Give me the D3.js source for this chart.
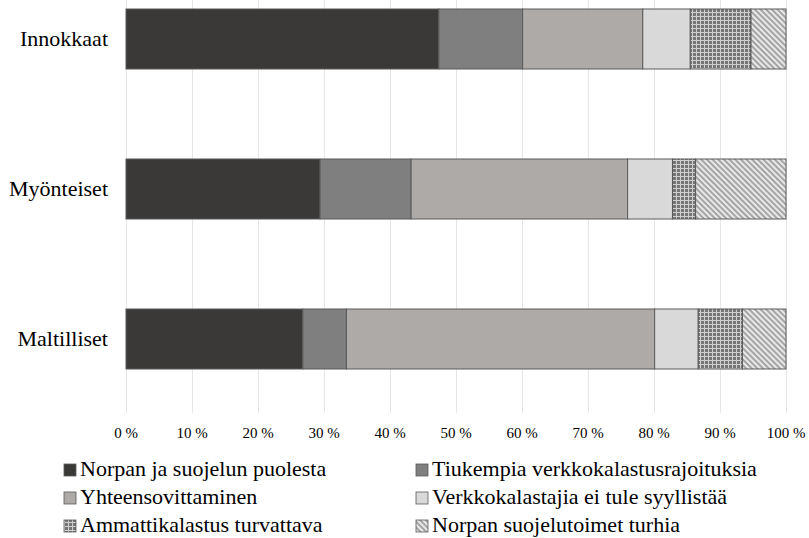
<!DOCTYPE html>
<html>
<head>
<meta charset="utf-8">
<script src="https://cdn.jsdelivr.net/npm/d3@7"></script>
<style>
  body { margin: 0; background: #fff; }
</style>
</head>
<body>
<svg id="chart" width="809" height="538"></svg>
<script>
const categories = ["Innokkaat", "Myönteiset", "Maltilliset"];
const seriesNames = [
  "Norpan ja suojelun puolesta",
  "Tiukempia verkkokalastusrajoituksia",
  "Yhteensovittaminen",
  "Verkkokalastajia ei tule syyllistää",
  "Ammattikalastus turvattava",
  "Norpan suojelutoimet turhia"
];
const norpanPuolesta = [47.4, 29.4, 26.8];
const tiukempia = [12.7, 13.8, 6.6];
const yhteensovittaminen = [18.2, 32.8, 46.7];
const eiSyyllistaa = [7.2, 6.8, 6.6];
const ammattikalastus = [9.2, 3.5, 6.7];
const turhia = [5.3, 13.7, 6.6];
const tickValues = [0, 10, 20, 30, 40, 50, 60, 70, 80, 90, 100];

const seriesValues = [norpanPuolesta, tiukempia, yhteensovittaminen, eiSyyllistaa, ammattikalastus, turhia];
const fills = ["#3a3937", "#7f7f7f", "#aeaaa8", "#d9d9d9", "url(#grid)", "url(#diag)"];
const serif = "'Liberation Serif'";

const svg = d3.select("#chart");

// patterns
const defs = svg.append("defs");
const grid = defs.append("pattern")
    .attr("id", "grid")
    .attr("patternUnits", "userSpaceOnUse")
    .attr("width", 4)
    .attr("height", 4);
grid.append("rect").attr("width", 4).attr("height", 4).attr("fill", "#767676");
grid.append("rect").attr("x", 0).attr("y", 0).attr("width", 4).attr("height", 1).attr("fill", "#cfcfcf");
grid.append("rect").attr("x", 0).attr("y", 0).attr("width", 1).attr("height", 4).attr("fill", "#cfcfcf");

const diag = defs.append("pattern")
    .attr("id", "diag")
    .attr("patternUnits", "userSpaceOnUse")
    .attr("width", 4)
    .attr("height", 4)
    .attr("patternTransform", "rotate(45)");
diag.append("rect").attr("width", 4).attr("height", 4).attr("fill", "#e8e8e8");
diag.append("rect").attr("width", 4).attr("height", 1.8).attr("fill", "#9e9e9e");

const margin = { left: 126, right: 23 };
const width = 809 - margin.left - margin.right;
const plotH = 413;

const x = d3.scaleLinear().domain([0, 100]).range([margin.left, margin.left + width]);
const y = d3.scaleBand().domain(categories).range([-36, 414]).paddingInner(0.6).paddingOuter(0.3);

// gridlines
svg.append("g")
    .selectAll("line")
    .data(tickValues)
    .join("line")
    .attr("x1", d => x(d) + 0.5)
    .attr("x2", d => x(d) + 0.5)
    .attr("y1", 0)
    .attr("y2", plotH)
    .attr("stroke", "#e6e6e6")
    .attr("stroke-width", 1);

// stacked data
const table = categories.map((c, i) => {
    const row = { category: c };
    seriesNames.forEach((s, j) => { row[s] = seriesValues[j][i]; });
    return row;
});
const stacked = d3.stack().keys(seriesNames)(table);

svg.append("g")
    .selectAll("g")
    .data(stacked)
    .join("g")
    .attr("fill", (d, i) => fills[i])
    .selectAll("rect")
    .data(d => d)
    .join("rect")
    .attr("x", d => x(d[0]))
    .attr("y", d => y(d.data.category))
    .attr("width", d => x(d[1]) - x(d[0]))
    .attr("height", y.bandwidth())
    .attr("stroke", "#5a5a5a")
    .attr("stroke-width", 1);

// category labels
svg.append("g")
    .selectAll("text")
    .data(categories)
    .join("text")
    .attr("x", 108)
    .attr("y", d => y(d) + y.bandwidth() / 2 + 7)
    .attr("fill", "#000")
    .style("font-family", serif)
    .style("text-anchor", "end")
    .style("font-size", "22px")
    .text(d => d);

// x axis labels
svg.append("g")
    .selectAll("text")
    .data(tickValues)
    .join("text")
    .attr("x", d => x(d))
    .attr("y", 438)
    .attr("fill", "#000")
    .style("font-family", serif)
    .style("text-anchor", "middle")
    .style("font-size", "15px")
    .text(d => d + " %");

// legend
const legend = svg.append("g")
    .selectAll("g")
    .data(seriesNames)
    .join("g")
    .attr("transform", (d, i) => "translate(" + (i % 2 === 0 ? 64 : 416) + "," + (470 + Math.floor(i / 2) * 28) + ")");

legend.append("rect")
    .attr("x", 0)
    .attr("y", -6)
    .attr("width", 12)
    .attr("height", 12)
    .attr("fill", (d, i) => fills[i])
    .attr("stroke", "#5a5a5a")
    .attr("stroke-width", 0.8);

legend.append("text")
    .attr("x", 16)
    .attr("y", 6)
    .attr("fill", "#000")
    .style("font-family", serif)
    .style("font-size", "22px")
    .text(d => d);
</script>
</body>
</html>
